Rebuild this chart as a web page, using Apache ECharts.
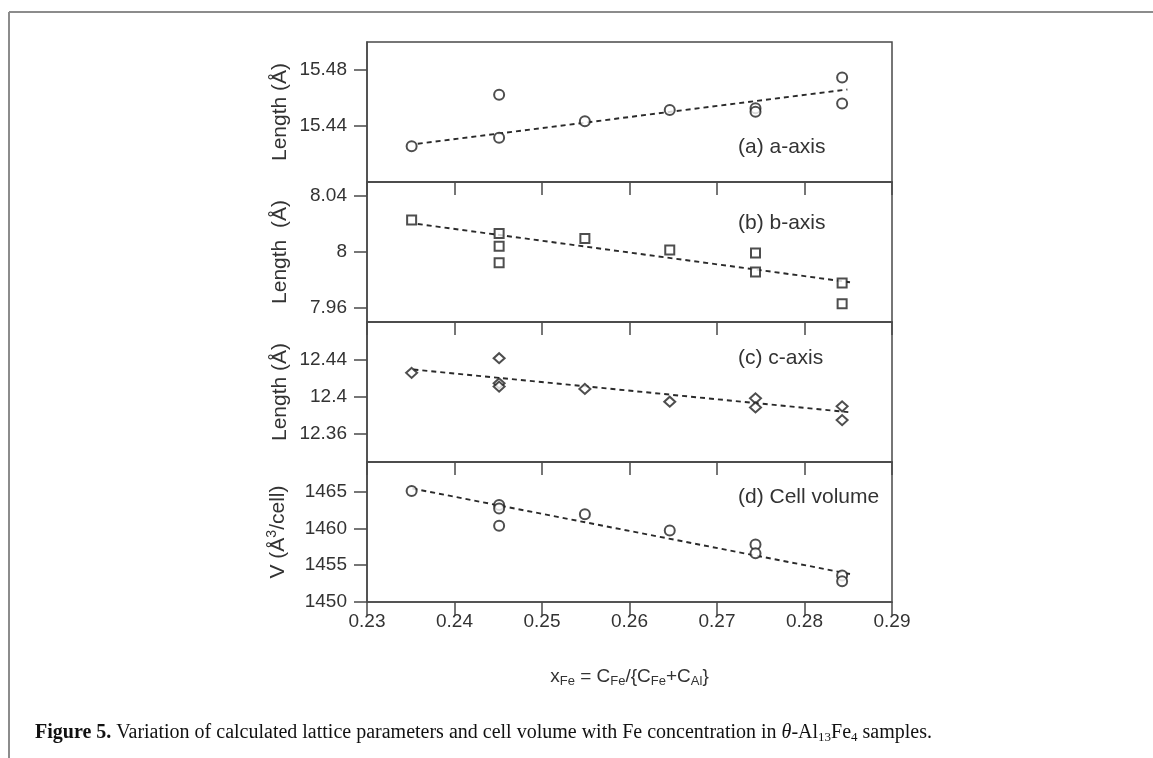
<!DOCTYPE html>
<html>
<head>
<meta charset="utf-8">
<title>Lattice parameters of θ-Al13Fe4</title>
<script src="https://cdn.jsdelivr.net/npm/echarts@6/dist/echarts.min.js"></script>
<style>
  html, body { margin: 0; padding: 0; background: #fff; }
  #chart { width: 1153px; height: 758px; }
</style>
</head>
<body>
<div id="chart"></div>
<script>
// Fe fraction axis ticks
const xTicks = [0.23, 0.24, 0.25, 0.26, 0.27, 0.28, 0.29];

// (a) a-axis length (Å)
const aX = [0.2351, 0.2451, 0.2451, 0.2549, 0.2646, 0.2744, 0.2744, 0.2843, 0.2843];
const aLen = [15.4256, 15.4623, 15.4316, 15.4434, 15.4515, 15.4527, 15.4501, 15.4747, 15.4560];
const aFitX = [0.2358, 0.2849];
const aFitY = [15.4273, 15.4661];
const aTicks = [15.44, 15.48];

// (b) b-axis length (Å)
const bX = [0.2351, 0.2451, 0.2451, 0.2451, 0.2549, 0.2646, 0.2744, 0.2744, 0.2843, 0.2843];
const bLen = [8.0228, 8.0132, 8.0041, 7.9923, 8.0096, 8.0014, 7.9993, 7.9858, 7.9779, 7.9630];
const bFitX = [0.2358, 0.2852];
const bFitY = [8.0200, 7.9784];
const bTicks = [7.96, 8, 8.04];

// (c) c-axis length (Å)
const cX = [0.2351, 0.2451, 0.2451, 0.2451, 0.2549, 0.2646, 0.2744, 0.2744, 0.2843, 0.2843];
const cLen = [12.4255, 12.4412, 12.4143, 12.4108, 12.4083, 12.3946, 12.3982, 12.3885, 12.3896, 12.3749];
const cFitX = [0.2353, 0.2854];
const cFitY = [12.4291, 12.3831];
const cTicks = [12.36, 12.4, 12.44];

// (d) cell volume (Å^3/cell)
const dX = [0.2351, 0.2451, 0.2451, 0.2451, 0.2549, 0.2646, 0.2744, 0.2744, 0.2843, 0.2843];
const dVol = [1465.08, 1463.15, 1462.70, 1460.35, 1461.90, 1459.70, 1457.80, 1456.60, 1453.60, 1452.80];
const dFitX = [0.2352, 0.2852];
const dFitY = [1465.4, 1453.8];
const dTicks = [1450, 1455, 1460, 1465];

const panelLabels = ['(a) a-axis', '(b) b-axis', '(c) c-axis', '(d) Cell volume'];

const INK = '#333';
const FRAME = '#4a4a4a';
const SANS = '"Liberation Sans", Arial, Helvetica, sans-serif';
const SERIF = '"Liberation Serif", "Times New Roman", serif';

const zip = (xs, ys) => xs.map((x, i) => [x, ys[i]]);

const panels = [
  { pts: zip(aX, aLen), fit: zip(aFitX, aFitY), ticks: aTicks, min: 15.40, max: 15.50,
    symbol: 'emptyCircle', size: 10, name: 'Length (Å)' },
  { pts: zip(bX, bLen), fit: zip(bFitX, bFitY), ticks: bTicks, min: 7.95, max: 8.05,
    symbol: 'emptyRect', size: 9, name: 'Length  (Å)' },
  { pts: zip(cX, cLen), fit: zip(cFitX, cFitY), ticks: cTicks, min: 12.33, max: 12.48,
    symbol: 'emptyDiamond', size: [11, 10], name: 'Length (Å)' },
  { pts: zip(dX, dVol), fit: zip(dFitX, dFitY), ticks: dTicks, min: 1450, max: 1469,
    symbol: 'emptyCircle', size: 10, name: 'V (Å{sup|3}/cell)' }
];

const gridTops = [42, 182, 322, 462];
const gridH = 140;
const gridLeft = 367;
const gridRight = 261;

const grid = [], xAxis = [], yAxis = [], series = [];

panels.forEach((p, i) => {
  const last = i === panels.length - 1;
  grid.push({
    left: gridLeft, right: gridRight, top: gridTops[i], height: gridH,
    show: true, borderColor: FRAME, borderWidth: 1.5, backgroundColor: 'transparent'
  });
  xAxis.push({
    type: 'value', gridIndex: i, min: xTicks[0], max: xTicks[xTicks.length - 1], interval: 0.01,
    axisLine: { show: true, lineStyle: { color: FRAME, width: 1.5 } },
    axisTick: { show: true, inside: false, length: 13, customValues: xTicks,
      lineStyle: { color: FRAME, width: 1.5 } },
    splitLine: { show: false },
    axisLabel: {
      show: last, margin: 10, color: INK, fontSize: 19, fontFamily: SANS,
      customValues: xTicks, formatter: v => v.toFixed(2)
    },
    name: last ? 'x{sub|Fe} = C{sub|Fe}/{C{sub|Fe}+C{sub|Al}}' : '',
    nameLocation: 'middle', nameGap: 63,
    nameTextStyle: {
      color: INK, fontSize: 19, fontFamily: SANS,
      rich: { sub: { fontSize: 13, color: INK, fontFamily: SANS, padding: [10, 0, 0, 0] } }
    }
  });
  yAxis.push({
    type: 'value', gridIndex: i, min: p.min, max: p.max,
    axisLine: { show: true, lineStyle: { color: FRAME, width: 1.5 } },
    axisTick: { show: true, inside: false, length: 13, customValues: p.ticks,
      lineStyle: { color: FRAME, width: 1.5 } },
    splitLine: { show: false },
    axisLabel: { show: true, margin: 20, color: INK, fontSize: 19, fontFamily: SANS,
      customValues: p.ticks, formatter: v => String(+v.toFixed(2)) },
    name: p.name, nameLocation: 'middle', nameRotate: 90, nameGap: 76,
    nameTextStyle: {
      color: INK, fontSize: 21, fontFamily: SANS,
      rich: { sup: { fontSize: 14, color: INK, fontFamily: SANS, padding: [0, 0, 12, 0] } }
    }
  });
  series.push({
    type: 'line', xAxisIndex: i, yAxisIndex: i, data: p.fit, symbol: 'none',
    lineStyle: { color: '#2a2a2a', width: 1.9, type: [5, 4] }, silent: true, z: 2
  });
  series.push({
    type: 'scatter', xAxisIndex: i, yAxisIndex: i, data: p.pts,
    symbol: p.symbol, symbolSize: p.size,
    itemStyle: { color: '#222', borderColor: '#222', borderWidth: 1.9 }, z: 3
  });
});

const labelY = [147, 223, 358, 497];
const graphic = panelLabels.map((t, i) => ({
  type: 'text', x: 738, y: labelY[i],
  style: { text: t, fill: INK, font: '21px ' + SANS, align: 'left', verticalAlign: 'middle' }
}));

// page frame lines
graphic.push({ type: 'line', shape: { x1: 9, y1: 12, x2: 1153, y2: 12 },
  style: { stroke: '#8c8c8c', lineWidth: 2 } });
graphic.push({ type: 'line', shape: { x1: 9, y1: 12, x2: 9, y2: 758 },
  style: { stroke: '#8c8c8c', lineWidth: 2 } });

// caption
graphic.push({
  type: 'text', x: 35, y: 733,
  style: {
    text: '{b|Figure 5.} Variation of calculated lattice parameters and cell volume with Fe concentration in {i|θ}-Al{s|13}Fe{s|4} samples.',
    fill: '#111', font: '20px ' + SERIF, align: 'left', verticalAlign: 'middle',
    rich: {
      b: { fontWeight: 'bold', fontSize: 20, fontFamily: SERIF, fill: '#111' },
      i: { fontStyle: 'italic', fontSize: 20, fontFamily: SERIF, fill: '#111' },
      s: { fontSize: 13, fontFamily: SERIF, fill: '#111', padding: [9, 0, 0, 0] }
    }
  }
});

const chart = echarts.init(document.getElementById('chart'), null, { renderer: 'canvas' });
chart.setOption({
  animation: false,
  backgroundColor: '#fff',
  grid, xAxis, yAxis, series, graphic
});
</script>
</body>
</html>
